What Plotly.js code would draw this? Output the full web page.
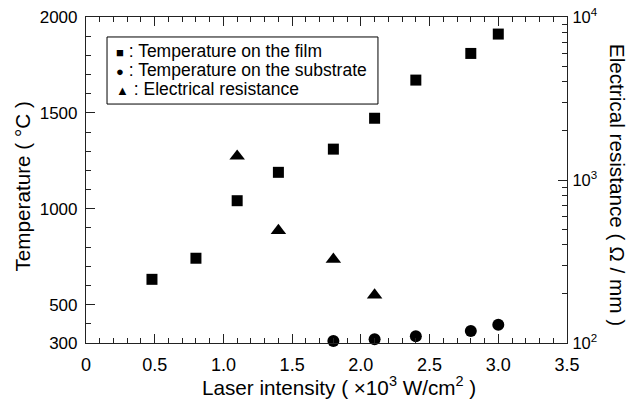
<!DOCTYPE html>
<html>
<head>
<meta charset="utf-8">
<script src="https://cdn.plot.ly/plotly-3.0.1.min.js"></script>
<style>html,body{margin:0;padding:0;background:#fff;}#chart{width:636px;height:406px;}</style>
</head>
<body>
<div id="chart"></div>
<script>
// Laser intensity (x10^3 W/cm^2)
const filmIntensity = [0.48, 0.8, 1.1, 1.4, 1.8, 2.1, 2.4, 2.8, 3.0];
const filmTemperature = [632, 742, 1042, 1190, 1311, 1472, 1671, 1810, 1911];
const substrateIntensity = [1.8, 2.1, 2.4, 2.8, 3.0];
const substrateTemperature = [310, 319, 335, 362, 395];
const resistanceIntensity = [1.1, 1.4, 1.8, 2.1];
const resistanceValues = [1400, 490, 326, 197];

const xTickVals = [0, 0.5, 1.0, 1.5, 2.0, 2.5, 3.0, 3.5];
const xTickText = ['0', '0.5', '1.0', '1.5', '2.0', '2.5', '3.0', '3.5'];
const yTickVals = [300, 500, 1000, 1500, 2000];
const y2TickVals = [100, 1000, 10000];
const y2TickText = ['10<sup>2</sup>', '10<sup>3</sup>', '10<sup>4</sup>'];
const y2MinorTickVals = [200, 300, 400, 500, 600, 700, 800, 900, 2000, 3000, 4000, 5000, 6000, 7000, 8000, 9000];

const legendLabels = [
  ': Temperature on the film',
  ': Temperature on the substrate',
  ': Electrical resistance'
];
const legendGlyphs = ['■', '●', '▲'];

const FONT = 'Liberation Sans, Arial, DejaVu Sans, sans-serif';
const AX = '#222';

const traces = [
  {x: filmIntensity, y: filmTemperature, type: 'scatter', mode: 'markers', name: legendLabels[0],
   marker: {symbol: 'square', size: 11, color: '#000'}, cliponaxis: false},
  {x: substrateIntensity, y: substrateTemperature, type: 'scatter', mode: 'markers', name: legendLabels[1],
   marker: {symbol: 'circle', size: 12, color: '#000'}, cliponaxis: false},
  {x: resistanceIntensity, y: resistanceValues, type: 'scatter', mode: 'markers', name: legendLabels[2],
   yaxis: 'y2', marker: {symbol: 'triangle-up', size: 13.5, color: '#000'}, cliponaxis: false}
];

const legendYs = [0.8966, 0.8374, 0.7782];
const annotations = legendLabels.map((t, i) => ({
  text: '<span style="font-size:13px">' + legendGlyphs[i] + '</span> ' + t,
  xref: 'paper', yref: 'paper', x: 0.058, y: legendYs[i],
  xanchor: 'left', yanchor: 'middle', showarrow: false,
  font: {family: FONT, size: 17.5, color: '#000'}
}));
annotations.push({
  text: 'Laser intensity ( ×10<sup>3</sup> W/cm<sup>2</sup> )',
  xref: 'paper', yref: 'paper', x: 0.526, y: -0.133, xanchor: 'center', yanchor: 'middle',
  showarrow: false, font: {family: FONT, size: 20.7, color: '#000'}
});
annotations.push({
  text: 'Temperature ( °C )', textangle: -90,
  xref: 'paper', yref: 'paper', x: -0.133, y: 0.48, xanchor: 'center', yanchor: 'middle',
  showarrow: false, font: {family: FONT, size: 20.7, color: '#000'}
});
annotations.push({
  text: 'Electrical resistance ( Ω / mm )', textangle: 90,
  xref: 'paper', yref: 'paper', x: 1.104, y: 0.485, xanchor: 'center', yanchor: 'middle',
  showarrow: false, font: {family: FONT, size: 20.7, color: '#000'}
});

const layout = {
  width: 636, height: 406,
  margin: {l: 86, r: 69, t: 17, b: 63, pad: 0},
  paper_bgcolor: '#fff', plot_bgcolor: '#fff',
  showlegend: false,
  font: {family: FONT, color: '#000'},
  xaxis: {
    range: [0, 3.5], tickmode: 'array', tickvals: xTickVals, ticktext: xTickText,
    ticks: 'inside', ticklen: 9, tickwidth: 1.2, tickcolor: AX,
    showline: true, linecolor: AX, linewidth: 1.2, mirror: 'ticks',
    showgrid: false, zeroline: false,
    minor: {dtick: 0.1, tick0: 0, ticks: 'inside', ticklen: 5, tickwidth: 1.2, tickcolor: AX, showgrid: false},
    tickfont: {family: FONT, size: 18, color: '#000'}, ticklabelstandoff: 5
  },
  yaxis: {
    range: [300, 2000], tickmode: 'array', tickvals: yTickVals,
    ticks: 'inside', ticklen: 9, tickwidth: 1.2, tickcolor: AX,
    showline: true, linecolor: AX, linewidth: 1.2,
    showgrid: false, zeroline: false,
    minor: {dtick: 100, tick0: 0, ticks: 'inside', ticklen: 5, tickwidth: 1.2, tickcolor: AX, showgrid: false},
    tickfont: {family: FONT, size: 17, color: '#000'}, ticklabelstandoff: 4
  },
  yaxis2: {
    type: 'log', range: [2, 4], overlaying: 'y', side: 'right',
    tickmode: 'array', tickvals: y2TickVals, ticktext: y2TickText,
    ticks: 'inside', ticklen: 9, tickwidth: 1.2, tickcolor: AX,
    showline: true, linecolor: AX, linewidth: 1.2,
    showgrid: false, zeroline: false,
    minor: {tickmode: 'array', tickvals: y2MinorTickVals, ticks: 'inside', ticklen: 5, tickwidth: 1.2, tickcolor: AX, showgrid: false},
    tickfont: {family: FONT, size: 16.5, color: '#000'}, ticklabelstandoff: 1
  },
  shapes: [{
    type: 'rect', xref: 'paper', yref: 'paper',
    x0: 0.0437, x1: 0.607, y0: 0.733, y1: 0.9387,
    line: {color: '#000', width: 1}, fillcolor: 'rgba(0,0,0,0)', layer: 'above'
  }],
  annotations: annotations
};

Plotly.newPlot('chart', traces, layout, {displayModeBar: false});
</script>
</body>
</html>
